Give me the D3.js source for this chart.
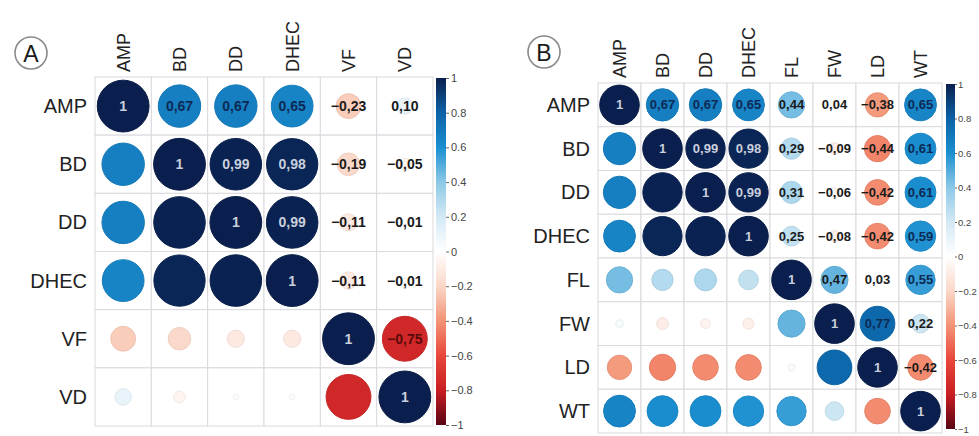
<!DOCTYPE html>
<html><head><meta charset="utf-8">
<script src="https://cdn.jsdelivr.net/npm/d3@7"></script>
<style>html,body{margin:0;padding:0;background:#fff;}svg{display:block;}</style>
</head><body>
<svg id="chart" width="979" height="436"></svg>
<script>
// ---- data ----
const varsA = ["AMP","BD","DD","DHEC","VF","VD"];
const corrA = [
  [1,     0.67,  0.67,  0.65, -0.23,  0.10],
  [0.67,  1,     0.99,  0.98, -0.19, -0.05],
  [0.67,  0.99,  1,     0.99, -0.11, -0.01],
  [0.65,  0.98,  0.99,  1,    -0.11, -0.01],
  [-0.23,-0.19, -0.11, -0.11,  1,    -0.75],
  [0.10, -0.05, -0.01, -0.01, -0.75,  1]
];
const varsB = ["AMP","BD","DD","DHEC","FL","FW","LD","WT"];
const corrB = [
  [1,     0.67,  0.67,  0.65,  0.44,  0.04, -0.38,  0.65],
  [0.67,  1,     0.99,  0.98,  0.29, -0.09, -0.44,  0.61],
  [0.67,  0.99,  1,     0.99,  0.31, -0.06, -0.42,  0.61],
  [0.65,  0.98,  0.99,  1,     0.25, -0.08, -0.42,  0.59],
  [0.44,  0.29,  0.31,  0.25,  1,     0.47,  0.03,  0.55],
  [0.04, -0.09, -0.06, -0.08,  0.47,  1,     0.77,  0.22],
  [-0.38,-0.44, -0.42, -0.42,  0.03,  0.77,  1,    -0.42],
  [0.65,  0.61,  0.61,  0.59,  0.55,  0.22, -0.42,  1]
];
const barTicks = [1, 0.8, 0.6, 0.4, 0.2, 0, -0.2, -0.4, -0.6, -0.8, -1];
const panelLetters = ["A","B"];

// ---- colour ----
const stops = [-1,-0.8,-0.6,-0.4,-0.2,0,0.2,0.4,0.6,0.8,1];
const stopCols = ["#5a0614","#c81e22","#e8473a","#f39375","#fbd7c7","#ffffff","#d3e9f4","#8cc8e7","#1a8fd0","#0c62a6","#0a1f4e"];
const color = d3.scaleLinear().domain(stops).range(stopCols).interpolate(d3.interpolateRgb);

const svg = d3.select("#chart");
const fmt = v => v === 1 ? "1" : d3.format(".2f")(v).replace(".", ",");

function panel(cfg) {
  const {vars, corr, x0, x1, y0, y1, rowFont, colFont, numFont, barX, barW, barY0, barY1, barFont, tickSize, tickPad, letter, lx, ly} = cfg;
  const g = svg.append("g");
  const xs = d3.scaleBand().domain(vars).range([x0, x1]);
  const ys = d3.scaleBand().domain(vars).range([y0, y1]);
  const cellMin = Math.min(xs.bandwidth(), ys.bandwidth());
  const rScale = d3.scaleSqrt().domain([0, 1]).range([0, cellMin * 0.46]);

  const cells = [];
  vars.forEach((rv, i) => vars.forEach((cv, j) => cells.push({i, j, rv, cv, v: corr[i][j]})));

  // grid
  g.selectAll("rect.cell").data(cells).join("rect")
    .attr("x", d => xs(d.cv)).attr("y", d => ys(d.rv))
    .attr("width", xs.bandwidth()).attr("height", ys.bandwidth())
    .attr("fill", "#fff").attr("stroke", "#d9d9de").attr("stroke-width", 1);

  // circles
  g.selectAll("circle.c").data(cells).join("circle")
    .attr("cx", d => xs(d.cv) + xs.bandwidth() / 2)
    .attr("cy", d => ys(d.rv) + ys.bandwidth() / 2)
    .attr("r", d => rScale(Math.abs(d.v)))
    .attr("fill", d => color(d.v))
    .attr("stroke", d => d3.color(color(d.v)).darker(Math.abs(d.v) > 0.9 ? 0.3 : 0.15))
    .attr("stroke-width", 1);

  // coefficients (upper triangle incl. diagonal)
  g.selectAll("text.num").data(cells.filter(d => d.j >= d.i)).join("text")
    .attr("x", d => xs(d.cv) + xs.bandwidth() / 2)
    .attr("y", d => ys(d.rv) + ys.bandwidth() / 2)
    .attr("text-anchor", "middle").attr("dominant-baseline", "central")
    .attr("font-family", "Liberation Sans, Arial, sans-serif")
    .attr("font-weight", "bold")
    .attr("font-size", numFont)
    .attr("fill", d => Math.abs(d.v) > 0.9 ? "#c9cfdc" : (d.v > 0.5 ? "#0d2a55" : (d.v < -0.6 ? "#5a0a0a" : "#1a1a1a")))
    .text(d => fmt(d.v));

  // row labels
  g.selectAll("text.row").data(vars).join("text")
    .attr("x", x0 - 8).attr("y", d => ys(d) + ys.bandwidth() / 2)
    .attr("text-anchor", "end").attr("dominant-baseline", "central")
    .attr("font-family", "Liberation Sans, Arial, sans-serif")
    .attr("font-size", rowFont).attr("fill", "#222")
    .text(d => d);

  // column labels
  g.selectAll("text.col").data(vars).join("text")
    .attr("transform", d => `translate(${xs(d) + xs.bandwidth() / 2 + colFont * 0.36},${y0 - 5}) rotate(-90)`)
    .attr("text-anchor", "start")
    .attr("font-family", "Liberation Sans, Arial, sans-serif")
    .attr("font-size", colFont).attr("fill", "#222")
    .text(d => d);

  // colour bar
  const by = d3.scaleLinear().domain([1, -1]).range([barY0, barY1]);
  const gradId = "grad" + letter;
  const grad = svg.append("defs").append("linearGradient").attr("id", gradId)
    .attr("x1", 0).attr("x2", 0).attr("y1", 0).attr("y2", 1);
  d3.range(0, 1.0001, 0.05).forEach(t => {
    grad.append("stop").attr("offset", t).attr("stop-color", color(1 - 2 * t));
  });
  g.append("rect").attr("x", barX).attr("y", by(1)).attr("width", barW)
    .attr("height", by(-1) - by(1)).attr("fill", `url(#${gradId})`);
  const ax = g.append("g").attr("transform", `translate(${barX + barW},0)`)
    .call(d3.axisRight(by).tickValues(barTicks).tickSize(tickSize).tickPadding(tickPad)
      .tickFormat(d => d3.format("")(d)));
  ax.select(".domain").remove();
  ax.selectAll("line").attr("stroke", "#666");
  ax.selectAll("text").attr("font-family", "Liberation Sans, Arial, sans-serif")
    .attr("font-size", barFont).attr("fill", "#444");

  // panel letter
  g.append("circle").attr("cx", lx).attr("cy", ly).attr("r", 16)
    .attr("fill", "none").attr("stroke", "#8a8a8a").attr("stroke-width", 1.6);
  g.append("text").attr("x", lx).attr("y", ly + 1)
    .attr("text-anchor", "middle").attr("dominant-baseline", "central")
    .attr("font-family", "Liberation Sans, Arial, sans-serif")
    .attr("font-size", 23).attr("fill", "#1a1a1a").text(letter);
}

panel({vars: varsA, corr: corrA, x0: 95, x1: 433, y0: 77, y1: 426,
  rowFont: 20, colFont: 18, numFont: 14, barX: 436, barW: 10, barY0: 78, barY1: 425,
  barFont: 11, tickSize: 3, tickPad: 2,
  letter: panelLetters[0], lx: 31, ly: 53});
panel({vars: varsB, corr: corrB, x0: 598, x1: 942, y0: 83, y1: 433,
  rowFont: 20, colFont: 18, numFont: 13, barX: 946, barW: 9, barY0: 84, barY1: 429,
  barFont: 9.5, tickSize: 2, tickPad: 1,
  letter: panelLetters[1], lx: 544, ly: 52});
</script>
</body></html>
